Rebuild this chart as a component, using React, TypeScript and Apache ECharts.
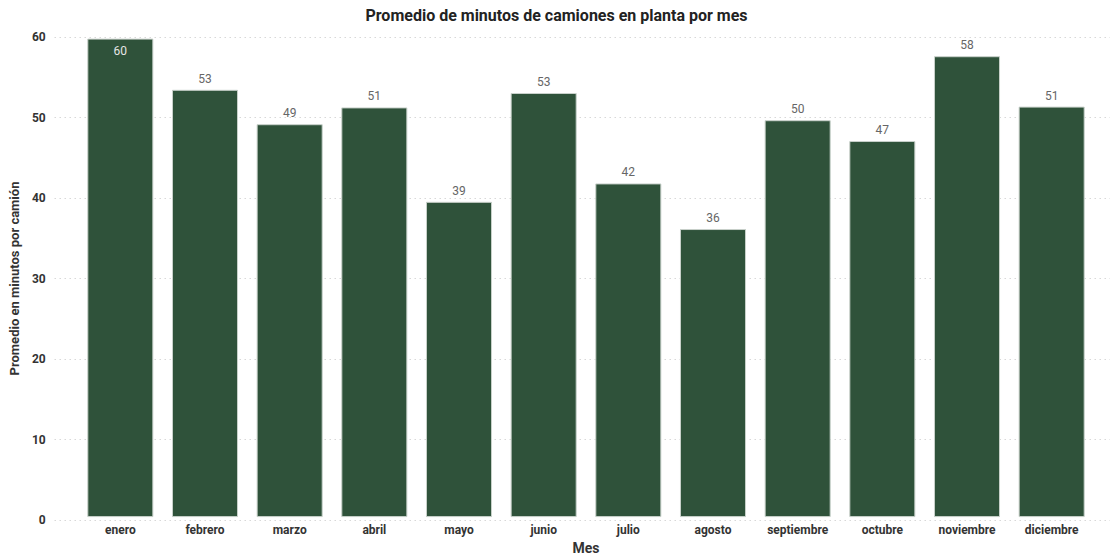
import React, { useEffect, useRef } from "react";
import * as echarts from "echarts";

const meses = ["enero", "febrero", "marzo", "abril", "mayo", "junio", "julio", "agosto", "septiembre", "octubre", "noviembre", "diciembre"];
const promedio = [59.8, 53.4, 49.1, 51.2, 39.4, 53.0, 41.7, 36.0, 49.6, 47.0, 57.6, 51.3];
const yTicks = [0, 10, 20, 30, 40, 50, 60];

const FONT = "Roboto, 'DejaVu Sans', sans-serif";
const BAR = "#2F523A";

export default function App() {
  const ref = useRef<HTMLDivElement>(null);
  useEffect(() => {
    document.body.style.margin = "0";
    const chart = echarts.init(ref.current!, null, { renderer: "svg" });
    const data = promedio.map((v) => ({
      value: v,
      label:
        v >= 59
          ? { position: "insideTop", color: "#e6e6e6", distance: 6 }
          : { position: "top", color: "#666666", distance: 5 },
    }));
    chart.setOption({
      animation: false,
      backgroundColor: "#ffffff",
      textStyle: { fontFamily: FONT },
      title: {
        text: "Promedio de minutos de camiones en planta por mes",
        left: "center",
        top: 2,
        textStyle: { fontFamily: FONT, fontSize: 16, fontWeight: "bold", color: "#222222" },
      },
      grid: [
        { left: 52, right: 3, top: 37, bottom: 40 },
        { left: 78, right: 19, top: 37, bottom: 40 },
      ],
      xAxis: [
        { type: "value", gridIndex: 0, min: 0, max: 1, show: false },
        {
          type: "category",
          gridIndex: 1,
          data: meses,
          axisLine: { show: false },
          axisTick: { show: false },
          axisLabel: { color: "#333333", fontSize: 12, fontWeight: "bold", margin: 7, fontFamily: FONT },
          name: "Mes",
          nameLocation: "middle",
          nameGap: 23,
          nameTextStyle: { color: "#333333", fontSize: 14, fontWeight: "bold", fontFamily: FONT },
        },
      ],
      yAxis: [
        {
          type: "value",
          gridIndex: 0,
          min: 0,
          max: yTicks[yTicks.length - 1],
          interval: 10,
          axisLine: { show: false },
          axisTick: { show: false },
          axisLabel: { color: "#333333", fontSize: 12, fontWeight: "bold", margin: 9, fontFamily: FONT },
          splitLine: { show: true, lineStyle: { color: "#c4c4c4", type: [1, 4], width: 1 } },
          name: "Promedio en minutos por camión",
          nameLocation: "middle",
          nameGap: 31,
          nameTextStyle: { color: "#333333", fontSize: 13, fontWeight: "bold", fontFamily: FONT },
        },
        { type: "value", gridIndex: 1, min: 0, max: 60, show: false, splitLine: { show: false } },
      ],
      series: [
        {
          type: "bar",
          xAxisIndex: 1,
          yAxisIndex: 1,
          data,
          barCategoryGap: "22%",
          itemStyle: { color: BAR, borderColor: "#c9d1cb", borderWidth: 1 },
          label: {
            show: true,
            fontSize: 12,
            fontFamily: FONT,
            formatter: (p: any) => String(Math.round(p.value)),
          },
        },
      ],
    });
    return () => chart.dispose();
  }, []);
  return <div ref={ref} style={{ width: 1113, height: 560 }} />;
}
